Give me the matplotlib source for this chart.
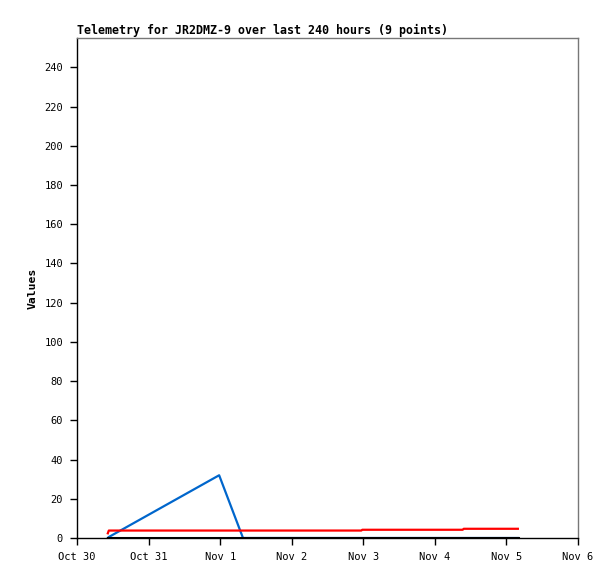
import datetime as dt
import matplotlib
matplotlib.use("Agg")
import matplotlib.pyplot as plt
import matplotlib.dates as mdates

times = [
    dt.datetime(2023, 10, 30, 10, 20),
    dt.datetime(2023, 10, 30, 10, 40),
    dt.datetime(2023, 10, 31, 23, 40),
    dt.datetime(2023, 11, 1, 7, 40),
    dt.datetime(2023, 11, 2, 23, 20),
    dt.datetime(2023, 11, 2, 23, 40),
    dt.datetime(2023, 11, 4, 9, 20),
    dt.datetime(2023, 11, 4, 9, 40),
    dt.datetime(2023, 11, 5, 3, 50),
]
blue_values = [0, 0.5, 32, 0, 0, 0, 0, 0, 0]
red_values = [2.4, 3.8, 3.8, 3.8, 3.8, 4.2, 4.2, 4.7, 4.7]
black_values = [0, 0, 0, 0, 0, 0, 0, 0, 0]

x_ticks = [dt.datetime(2023, 10, 30) + dt.timedelta(days=i) for i in range(8)]
x_labels = ["Oct 30", "Oct 31", "Nov 1", "Nov 2", "Nov 3", "Nov 4", "Nov 5", "Nov 6"]
y_ticks = list(range(0, 241, 20))

mono = ["DejaVu Sans Mono"]

fig = plt.figure(figsize=(6.15, 5.79), dpi=100)
ax = fig.add_axes([77 / 615, 1 - 538 / 579, 501 / 615, 500 / 579])

ax.plot(times, blue_values, color="#0066cc", lw=1.6)
ax.plot(times, red_values, color="#ff0000", lw=1.6)
ax.plot(times, black_values, color="black", lw=2.2)

ax.set_xlim(x_ticks[0], x_ticks[-1])
ax.set_ylim(0, 255)
ax.set_xticks(mdates.date2num(x_ticks))
ax.set_xticklabels(x_labels, family=mono, fontsize=7.5)
ax.set_yticks(y_ticks)
ax.set_yticklabels([str(v) for v in y_ticks], family=mono, fontsize=7.5)
ax.tick_params(direction="out", length=5, width=1, pad=5)

ax.spines["left"].set_color("black")
ax.spines["bottom"].set_color("black")
ax.spines["top"].set_color("#777777")
ax.spines["right"].set_color("#777777")
for s in ax.spines.values():
    s.set_linewidth(1)

ax.set_title("Telemetry for JR2DMZ-9 over last 240 hours (9 points)",
             loc="left", family=mono, fontweight="bold", fontsize=8.35, pad=3)
ax.set_ylabel("Values", family=mono, fontweight="bold", fontsize=8.2, labelpad=5)

fig.savefig("out.png", dpi=100)
